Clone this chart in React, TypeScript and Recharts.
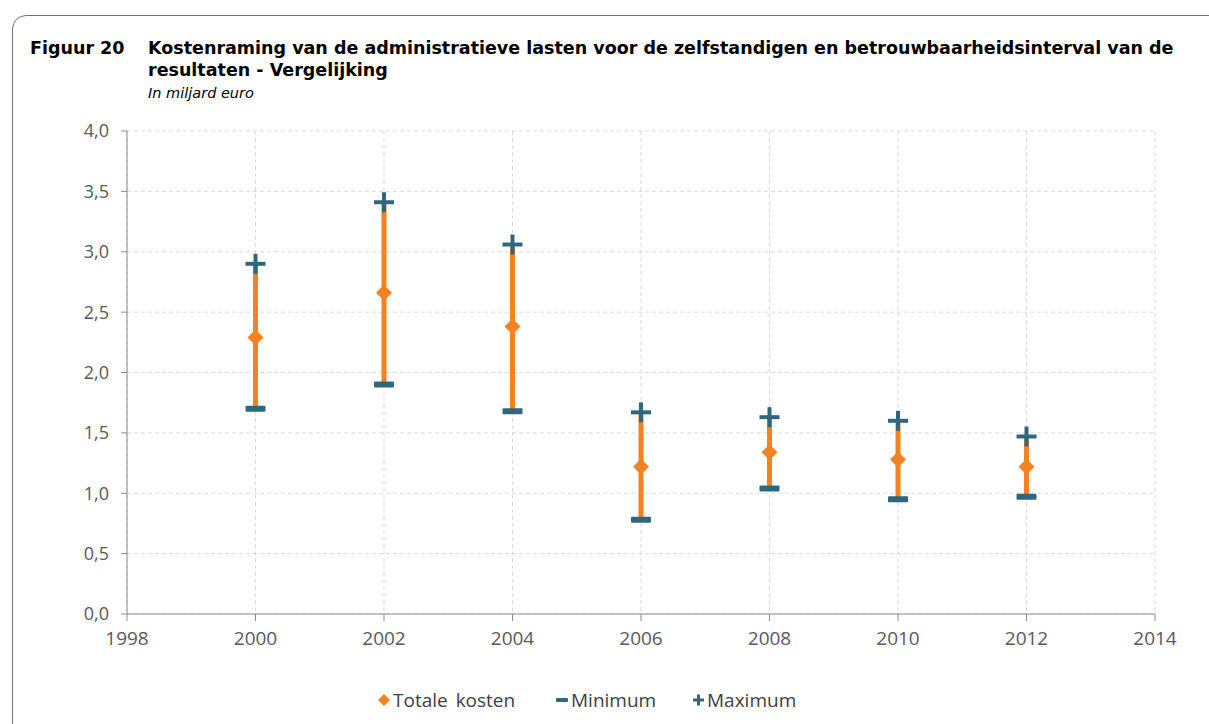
import { ComposedChart, Scatter, ErrorBar, XAxis, YAxis, CartesianGrid } from "recharts";

const years = [2000, 2002, 2004, 2006, 2008, 2010, 2012];
const totaleKosten = [2.29, 2.66, 2.38, 1.22, 1.34, 1.28, 1.22];
const minimum = [1.7, 1.9, 1.68, 0.78, 1.04, 0.95, 0.97];
const maximum = [2.9, 3.41, 3.06, 1.67, 1.63, 1.6, 1.47];

const xTicks = [1998, 2000, 2002, 2004, 2006, 2008, 2010, 2012, 2014];
const yTicks = [0, 0.5, 1, 1.5, 2, 2.5, 3, 3.5, 4];

const C = {
  orange: "#f5821f",
  teal: "#2f687e",
  grid: "#d9d9d9",
  axis: "#8c8c8c",
  tick: "#595959",
  text: "#000",
};

const data = years.map((y, i) => ({
  year: y,
  total: totaleKosten[i],
  min: minimum[i],
  max: maximum[i],
  err: [totaleKosten[i] - minimum[i], maximum[i] - totaleKosten[i]],
}));

const FONT = "'Open Sans', 'DejaVu Sans', sans-serif";
const TITLE_FONT = "'DejaVu Sans', sans-serif";

// eslint-disable-next-line @typescript-eslint/no-explicit-any
function Diamond({ cx, cy }: any) {
  const r = 8;
  return <path d={`M${cx},${cy - r}L${cx + r},${cy}L${cx},${cy + r}L${cx - r},${cy}Z`} fill={C.orange} />;
}

// eslint-disable-next-line @typescript-eslint/no-explicit-any
function Dash({ cx, cy }: any) {
  return <rect x={cx - 10} y={cy - 3} width={20} height={6} rx={1} fill={C.teal} />;
}

// eslint-disable-next-line @typescript-eslint/no-explicit-any
function Plus({ cx, cy }: any) {
  return (
    <g fill={C.teal}>
      <rect x={cx - 10} y={cy - 2} width={20} height={4} />
      <rect x={cx - 2} y={cy - 10} width={4} height={20} />
    </g>
  );
}

function LegendItem({ left, icon, label, wordSpacing = 0 }: { left: number; icon: React.ReactNode; label: string; wordSpacing?: number }) {
  return (
    <div
      style={{ position: "absolute", left, top: 687, display: "flex", alignItems: "center", whiteSpace: "nowrap", wordSpacing }}
    >
      <svg width={14} height={14} style={{ marginRight: 2 }}>
        {icon}
      </svg>
      {label}
    </div>
  );
}

export default function App() {
  return (
    <div
      style={{
        position: "absolute",
        left: 0,
        top: 0,
        width: 1209,
        height: 724,
        overflow: "hidden",
        background: "#fff",
        fontFamily: FONT,
      }}
    >
      <div
        style={{
          position: "absolute",
          left: 12,
          top: 15,
          width: 1260,
          height: 780,
          border: "1.5px solid #707070",
          borderRadius: 14,
        }}
      />
      <div
        style={{
          position: "absolute",
          left: 30,
          top: 37,
          fontFamily: TITLE_FONT,
          fontWeight: 700,
          fontSize: 17.5,
          color: C.text,
          lineHeight: "22px",
        }}
      >
        Figuur 20
      </div>
      <div
        style={{
          position: "absolute",
          left: 148,
          top: 37,
          width: 1058,
          fontFamily: TITLE_FONT,
          fontWeight: 700,
          fontSize: 17.5,
          color: C.text,
          lineHeight: "22px",
          whiteSpace: "nowrap",
        }}
      >
        Kostenraming van de administratieve lasten voor de zelfstandigen en betrouwbaarheidsinterval van de
        <br />
        resultaten - Vergelijking
      </div>
      <div
        style={{
          position: "absolute",
          left: 148,
          top: 84,
          fontFamily: TITLE_FONT,
          fontStyle: "italic",
          fontSize: 14.5,
          lineHeight: "18px",
          color: C.text,
        }}
      >
        In miljard euro
      </div>

      <div style={{ position: "absolute", left: 0, top: 0 }}>
        <ComposedChart width={1209} height={724} data={data} margin={{ top: 131, right: 54, bottom: 70, left: 67 }}>
          <CartesianGrid stroke={C.grid} strokeDasharray="4 3" />
          <XAxis
            dataKey="year"
            type="number"
            domain={[1998, 2014]}
            ticks={xTicks}
            interval={0}
            tick={{ fill: C.tick, fontSize: 19, fontFamily: FONT }}
            axisLine={{ stroke: C.axis }}
            tickLine={{ stroke: C.axis }}
            tickSize={7}
            tickMargin={11}
            height={40}
          />
          <YAxis
            type="number"
            domain={[0, 4]}
            ticks={yTicks}
            interval={0}
            tickFormatter={(v: number) => v.toFixed(1).replace(".", ",")}
            tick={{ fill: C.tick, fontSize: 18, fontFamily: FONT }}
            axisLine={{ stroke: C.axis }}
            tickLine={{ stroke: C.axis }}
            tickSize={6}
            tickMargin={12}
            width={60}
          />
          <Scatter dataKey="total" shape={<Diamond />} isAnimationActive={false}>
            <ErrorBar dataKey="err" direction="y" width={0} stroke={C.orange} strokeWidth={5} isAnimationActive={false} />
          </Scatter>
          <Scatter dataKey="min" shape={<Dash />} isAnimationActive={false} />
          <Scatter dataKey="max" shape={<Plus />} isAnimationActive={false} />
        </ComposedChart>
      </div>

      <div style={{ fontSize: 19, color: "#404040" }}>
        <LegendItem
          left={377}
          wordSpacing={3}
          label="Totale kosten"
          icon={<path d="M7,1L13,7L7,13L1,7Z" fill={C.orange} />}
        />
        <LegendItem left={555} label="Minimum" icon={<rect x={1} y={5} width={12} height={4} rx={1} fill={C.teal} />} />
        <LegendItem
          left={691}
          label="Maximum"
          icon={
            <g fill={C.teal}>
              <rect x={2} y={5.5} width={11} height={3} />
              <rect x={6} y={1.5} width={3} height={11} />
            </g>
          }
        />
      </div>
    </div>
  );
}
